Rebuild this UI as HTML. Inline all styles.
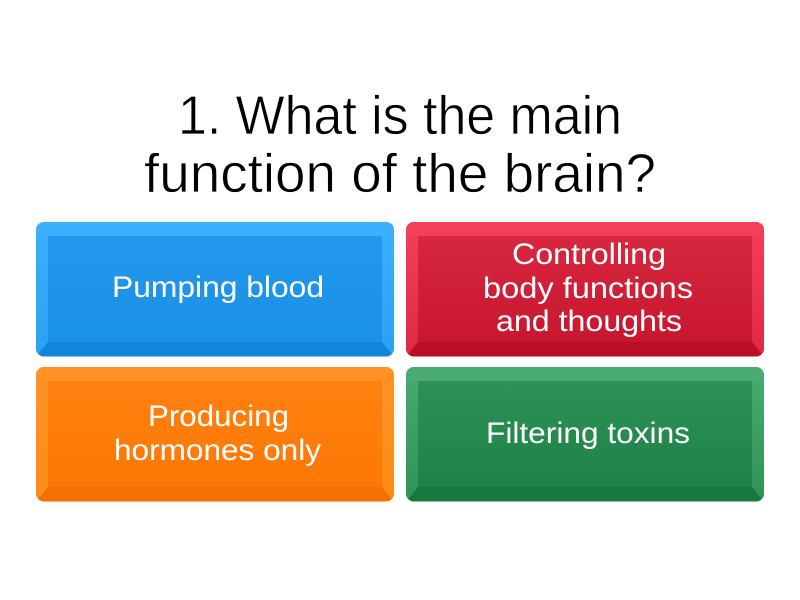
<!DOCTYPE html>
<html><head><meta charset="utf-8"><style>
html,body{margin:0;padding:0;background:#fff}
svg{display:block}
text{font-family:"Liberation Sans",sans-serif}
.t{font-size:55px;fill:#000;stroke:#fff;stroke-width:.7px}
.a{font-size:30px;fill:#fff}
</style></head><body>
<svg width="800" height="600" viewBox="0 0 800 600" xmlns="http://www.w3.org/2000/svg">
<defs>
<clipPath id="c"><rect width="358" height="134.5" rx="8"/></clipPath>
<linearGradient id="b" x1="0" y1="0" x2="0" y2="1"><stop offset="0" stop-color="#2499ee"/><stop offset="1" stop-color="#1890e4"/></linearGradient>
<linearGradient id="r" x1="0" y1="0" x2="0" y2="1"><stop offset="0" stop-color="#da2a42"/><stop offset="1" stop-color="#c5142c"/></linearGradient>
<linearGradient id="o" x1="0" y1="0" x2="0" y2="1"><stop offset="0" stop-color="#ff8210"/><stop offset="1" stop-color="#fc7705"/></linearGradient>
<linearGradient id="g" x1="0" y1="0" x2="0" y2="1"><stop offset="0" stop-color="#2e9456"/><stop offset="1" stop-color="#1d8045"/></linearGradient>
<linearGradient id="bs" x1="0" y1="0" x2="0" y2="1"><stop offset="0" stop-color="#3cb0ff"/><stop offset="1" stop-color="#2aa0f5"/></linearGradient>
<linearGradient id="rs" x1="0" y1="0" x2="0" y2="1"><stop offset="0" stop-color="#f53f58"/><stop offset="1" stop-color="#dc2a42"/></linearGradient>
<linearGradient id="os" x1="0" y1="0" x2="0" y2="1"><stop offset="0" stop-color="#ff9226"/><stop offset="1" stop-color="#ff8a18"/></linearGradient>
<linearGradient id="gs" x1="0" y1="0" x2="0" y2="1"><stop offset="0" stop-color="#4aab72"/><stop offset="1" stop-color="#2f9257"/></linearGradient>
<path id="tp" d="M0 0H358V14H0Z"/>
<path id="sd" d="M0 0H12V120L0 135ZM358 0H346V120L358 135Z"/>
<path id="bt" d="M12 120H346L358 135H0Z"/>
</defs>
<text class="t" x="178" y="134" textLength="444" lengthAdjust="spacingAndGlyphs">1. What is the main</text>
<text class="t" x="144" y="192" textLength="512" lengthAdjust="spacingAndGlyphs">function of the brain?</text>

<g transform="translate(36 222)" clip-path="url(#c)"><rect width="358" height="135" fill="url(#b)"/><use href="#sd" fill="url(#bs)"/><use href="#tp" fill="#3cb0ff"/><use href="#bt" fill="#1284d9"/></g>
<g transform="translate(406 222)" clip-path="url(#c)"><rect width="358" height="135" fill="url(#r)"/><use href="#sd" fill="url(#rs)"/><use href="#tp" fill="#f53f58"/><use href="#bt" fill="#ba0e26"/></g>
<g transform="translate(36 367)" clip-path="url(#c)"><rect width="358" height="135" fill="url(#o)"/><use href="#sd" fill="url(#os)"/><use href="#tp" fill="#ff9226"/><use href="#bt" fill="#f57000"/></g>
<g transform="translate(406 367)" clip-path="url(#c)"><rect width="358" height="135" fill="url(#g)"/><use href="#sd" fill="url(#gs)"/><use href="#tp" fill="#4aab72"/><use href="#bt" fill="#18783f"/></g>

<text class="a" x="112" y="297" textLength="212" lengthAdjust="spacingAndGlyphs">Pumping blood</text>
<text class="a" x="512" y="264" textLength="154" lengthAdjust="spacingAndGlyphs">Controlling</text>
<text class="a" x="483" y="298" textLength="210" lengthAdjust="spacingAndGlyphs">body functions</text>
<text class="a" x="496" y="331" textLength="186" lengthAdjust="spacingAndGlyphs">and thoughts</text>
<text class="a" x="148" y="426" textLength="141" lengthAdjust="spacingAndGlyphs">Producing</text>
<text class="a" x="114" y="460" textLength="207" lengthAdjust="spacingAndGlyphs">hormones only</text>
<text class="a" x="486" y="443" textLength="204" lengthAdjust="spacingAndGlyphs">Filtering toxins</text>
</svg>
</body></html>
